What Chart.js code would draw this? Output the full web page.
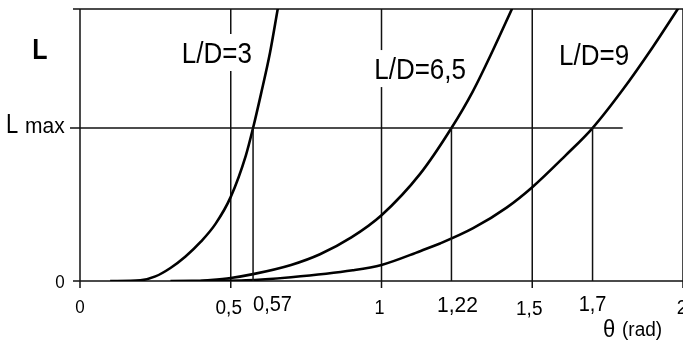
<!DOCTYPE html>
<html>
<head>
<meta charset="utf-8">
<script src="https://cdn.jsdelivr.net/npm/chart.js@4/dist/chart.umd.min.js"></script>
<style>
  html, body { margin: 0; padding: 0; background: #fff; }
  canvas { display: block; }
</style>
</head>
<body>
<canvas id="chart" width="683" height="342"></canvas>
<script>
// axis ticks
const thetaGrid = [0, 0.5, 1, 1.5, 2]
const thetaGridLabels = ['0', '0,5', '1', '1,5', '2']
const guideTheta = [0.574, 1.232, 1.7]
const guideLabels = ['0,57', '1,22', '1,7']
const lMax = 1
const lMaxEnd = 1.8
const yMax = 1.778

// curves (theta in rad, L relative to Lmax)
const curveNames = ['L/D=3', 'L/D=6,5', 'L/D=9']
const ld3Theta = [0.10, 0.20, 0.25, 0.30, 0.35, 0.40, 0.45, 0.50, 0.55, 0.574, 0.60, 0.63, 0.656]
const ld3L = [0, 0.005, 0.03, 0.085, 0.16, 0.255, 0.375, 0.55, 0.82, 1.0, 1.22, 1.49, 1.78]
const ld65Theta = [0.40, 0.50, 0.574, 0.70, 0.796, 0.90, 1.0, 1.128, 1.232, 1.303, 1.37, 1.433]
const ld65L = [0, 0.02, 0.045, 0.105, 0.175, 0.285, 0.43, 0.70, 1.0, 1.24, 1.51, 1.78]
const ld9Theta = [0.30, 0.55, 0.70, 0.905, 1.0, 1.128, 1.194, 1.304, 1.415, 1.501, 1.61, 1.70, 1.80, 1.90, 1.99]
const ld9L = [0, 0.005, 0.025, 0.07, 0.105, 0.195, 0.245, 0.345, 0.48, 0.615, 0.82, 1.0, 1.25, 1.53, 1.80]

// where the curve names sit (data coords, text baseline)
const curveLabelAt = [[0.454, 1.425], [1.128, 1.32], [1.705, 1.41]]

const FONT = '"Liberation Sans", Arial, sans-serif'
const INK = '#000'

function toPoints(xs, ys) {
  return xs.map((v, i) => ({ x: v, y: ys[i] }))
}

function curve(xs, ys) {
  return {
    data: toPoints(xs, ys),
    borderColor: INK,
    borderWidth: 2.6,
    pointRadius: 0,
    cubicInterpolationMode: 'monotone',
    fill: false
  }
}

function guide(points) {
  return {
    data: points,
    borderColor: '#111',
    borderWidth: 1.5,
    pointRadius: 0,
    tension: 0,
    fill: false
  }
}

const datasets = [
  guide([{ x: 0, y: lMax }, { x: lMaxEnd, y: lMax }]),
  ...guideTheta.map(t => guide([{ x: t, y: 0 }, { x: t, y: lMax }])),
  curve(ld3Theta, ld3L),
  curve(ld65Theta, ld65L),
  curve(ld9Theta, ld9L)
]

// label styles: [font size, baseline y]
const gridLabelStyle = [[17, 313], [19, 314], [18, 314], [19, 315], [19, 314]]
const guideLabelStyle = [[20, 311, 'left'], [21, 312, 'center'], [20, 311, 'center']]

// text stretched a little in height, like the scanned original
function text(ctx, s, x, y, font, stretch) {
  ctx.save()
  ctx.translate(x, y)
  ctx.scale(1, stretch || 1.08)
  ctx.font = font
  ctx.fillText(s, 0, 0)
  ctx.restore()
}

const drawPlugin = {
  id: 'frame',
  beforeDatasetsDraw(chart) {
    const { ctx, chartArea: a, scales: { x, y } } = chart
    const y0 = y.getPixelForValue(0)
    ctx.save()
    ctx.strokeStyle = '#111'
    ctx.lineWidth = 1.5
    ctx.beginPath()
    ctx.moveTo(a.left - 7, a.top)
    ctx.lineTo(a.right, a.top)
    ctx.moveTo(a.left - 7, y0)
    ctx.lineTo(a.right, y0)
    ctx.moveTo(a.left - 10, y.getPixelForValue(lMax))
    ctx.lineTo(a.left, y.getPixelForValue(lMax))
    thetaGrid.forEach(t => {
      const px = x.getPixelForValue(t)
      ctx.moveTo(px, a.top)
      ctx.lineTo(px, y0 + 7)
    })
    ctx.stroke()
    ctx.restore()
  },
  afterDatasetsDraw(chart) {
    const { ctx, scales: { x, y } } = chart
    ctx.save()
    ctx.fillStyle = INK
    ctx.textBaseline = 'alphabetic'

    // curve names on white boxes (they cut the grid lines)
    ctx.textAlign = 'center'
    curveNames.forEach((name, i) => {
      const px = x.getPixelForValue(curveLabelAt[i][0])
      const py = y.getPixelForValue(curveLabelAt[i][1])
      ctx.font = '26px ' + FONT
      const w = ctx.measureText(name).width
      ctx.fillStyle = '#fff'
      ctx.fillRect(px - w / 2 - 3, py - 29, w + 6, 37)
      ctx.fillStyle = INK
      text(ctx, name, px, py, '26px ' + FONT, 1.1)
    })

    // y axis labels
    text(ctx, 'L', 40, 59, 'bold 25px ' + FONT, 1.15)
    ctx.textAlign = 'left'
    text(ctx, 'L', 6, 133, '22px ' + FONT, 1.25)
    text(ctx, 'max', 25, 133, '21px ' + FONT, 1.02)
    ctx.textAlign = 'center'
    text(ctx, '0', 60, 288, '17px ' + FONT)

    // x axis labels
    thetaGrid.forEach((t, i) => {
      const [size, base] = gridLabelStyle[i]
      let px = x.getPixelForValue(t)
      if (i === 1) px -= 2
      if (i === 2) px -= 2
      if (i === 3) px -= 3
      if (i === 4) px -= 1
      text(ctx, thetaGridLabels[i], px, base, size + 'px ' + FONT)
    })
    guideTheta.forEach((t, i) => {
      const [size, base, align] = guideLabelStyle[i]
      ctx.textAlign = align
      let px = x.getPixelForValue(t)
      if (i === 1) px += 6
      text(ctx, guideLabels[i], px, base, size + 'px ' + FONT)
    })

    ctx.textAlign = 'left'
    text(ctx, 'θ', 603, 337, '22px ' + FONT, 1.1)
    text(ctx, '(rad)', 622, 336, '19px ' + FONT)
    ctx.restore()
  }
}

new Chart(document.getElementById('chart'), {
  type: 'line',
  data: { datasets },
  options: {
    responsive: false,
    animation: false,
    devicePixelRatio: 1,
    layout: { padding: { left: 80, right: 0, top: 9, bottom: 61 } },
    plugins: { legend: { display: false }, tooltip: { enabled: false } },
    scales: {
      x: { type: 'linear', min: 0, max: 2, display: false },
      y: { type: 'linear', min: 0, max: yMax, display: false }
    }
  },
  plugins: [drawPlugin]
})
</script>
</body>
</html>
